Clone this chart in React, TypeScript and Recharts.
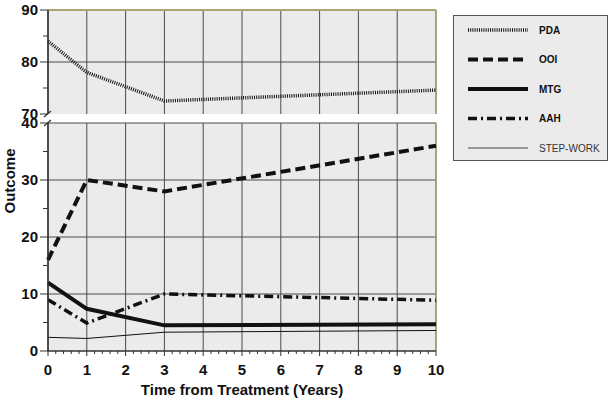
import { LineChart, Line, XAxis, YAxis, CartesianGrid, ReferenceLine } from 'recharts';

// ---------------------------------------------------------------------------
// Data
// ---------------------------------------------------------------------------

const years = [0, 1, 3, 10];
const pda = [84, 78, 72.5, 74.6];
const ooi = [16, 30, 28, 36];
const mtg = [12, 7.4, 4.5, 4.7];
const aah = [9, 4.9, 10, 8.9];
const stepWork = [2.4, 2.2, 3.3, 3.6];

const xMajorTicks = [0, 1, 2, 3, 4, 5, 6, 7, 8, 9, 10];
const xAllTicks = Array.from({ length: 51 }, (_, i) => i / 5);
const topMajorTicks = [70, 80, 90];
const topAllTicks = [70, 75, 80, 85, 90];
const bottomMajorTicks = [0, 10, 20, 30, 40];
const bottomAllTicks = [0, 5, 10, 15, 20, 25, 30, 35, 40];

const rows = years.map((year, i) => ({
  year,
  pda: pda[i],
  ooi: ooi[i],
  mtg: mtg[i],
  aah: aah[i],
  stepWork: stepWork[i],
}));

// ---------------------------------------------------------------------------
// Styles
// ---------------------------------------------------------------------------

const FONT = '"Liberation Sans", Arial, sans-serif';
const PLOT_BG = '#ebebeb';
const GRID = '#4a4a4a';
const OLIVE = '#aba477';
const AXIS = '#333';

interface SeriesStyle {
  key: string;
  name: string;
  width: number;
  dash?: string;
  bold: boolean;
}

const topSeries: SeriesStyle[] = [{ key: 'pda', name: 'PDA', width: 3.5, dash: '1 1.2', bold: true }];
const bottomSeries: SeriesStyle[] = [
  { key: 'ooi', name: 'OOI', width: 4, dash: '10 5', bold: true },
  { key: 'mtg', name: 'MTG', width: 4, bold: true },
  { key: 'aah', name: 'AAH', width: 3.5, dash: '9 4 2 4', bold: true },
  { key: 'stepWork', name: 'STEP-WORK', width: 1, bold: false },
];
const allSeries = [...topSeries, ...bottomSeries];

// ---------------------------------------------------------------------------
// Ticks
// ---------------------------------------------------------------------------

function YTick(props: any) {
  const { x, y, payload, majors } = props;
  const major = majors.includes(payload.value);
  return (
    <g>
      <line x1={x + (major ? 2 : 5)} x2={x + 10} y1={y} y2={y} stroke={AXIS} strokeWidth={1} />
      {major && (
        <text x={x} y={y} dy="0.36em" textAnchor="end" fontFamily={FONT} fontWeight="bold" fontSize={15} fill="#111">
          {payload.value}
        </text>
      )}
    </g>
  );
}

function XTick(props: any) {
  const { x, y, payload } = props;
  const major = Number.isInteger(payload.value);
  return (
    <g>
      <line x1={x} x2={x} y1={y} y2={y + (major ? 5 : 3)} stroke={AXIS} strokeWidth={1} />
      {major && (
        <text x={x} y={y + 24} textAnchor="middle" fontFamily={FONT} fontWeight="bold" fontSize={15} fill="#111">
          {payload.value}
        </text>
      )}
    </g>
  );
}

function renderLine(s: SeriesStyle) {
  return (
    <Line
      key={s.key}
      type="linear"
      dataKey={s.key}
      name={s.name}
      stroke="#111"
      strokeWidth={s.width}
      strokeDasharray={s.dash}
      strokeLinecap="butt"
      dot={false}
      activeDot={false}
      isAnimationActive={false}
    />
  );
}

// ---------------------------------------------------------------------------
// Component
// ---------------------------------------------------------------------------

export default function App() {
  return (
    <div style={{ position: 'absolute', left: 0, top: 0, width: 615, height: 403, background: '#fff' }}>
      {/* upper panel (70 - 90) */}
      <div style={{ position: 'absolute', left: 0, top: 0 }}>
        <LineChart width={615} height={132} data={rows} margin={{ top: 10, right: 179, bottom: 18, left: 0 }}>
          <CartesianGrid
            fill={PLOT_BG}
            fillOpacity={1}
            stroke={GRID}
            verticalValues={xMajorTicks}
            horizontalValues={[80]}
          />
          <XAxis dataKey="year" type="number" domain={[0, 10]} ticks={xMajorTicks} hide />
          <YAxis
            type="number"
            domain={[70, 90]}
            ticks={topAllTicks}
            interval={0}
            width={48}
            tickSize={8}
            tickMargin={2}
            tickLine={false}
            axisLine={{ stroke: AXIS, strokeWidth: 1.5 }}
            tick={(p: any) => <YTick {...p} majors={topMajorTicks} />}
          />
          <ReferenceLine y={90} stroke={OLIVE} strokeWidth={2} />
          <ReferenceLine x={10} stroke={OLIVE} strokeWidth={1.5} />
          {topSeries.map(renderLine)}
        </LineChart>
      </div>

      {/* lower panel (0 - 40) */}
      <div style={{ position: 'absolute', left: 0, top: 103 }}>
        <LineChart width={615} height={300} data={rows} margin={{ top: 20, right: 179, bottom: 0, left: 0 }}>
          <CartesianGrid
            fill={PLOT_BG}
            fillOpacity={1}
            stroke={GRID}
            verticalValues={xMajorTicks}
            horizontalValues={[10, 20, 30, 40]}
          />
          <XAxis
            dataKey="year"
            type="number"
            domain={[0, 10]}
            ticks={xAllTicks}
            interval={0}
            height={52}
            tickSize={0}
            tickMargin={0}
            tickLine={false}
            axisLine={{ stroke: AXIS, strokeWidth: 1.5 }}
            tick={(p: any) => <XTick {...p} />}
            label={{
              value: 'Time from Treatment (Years)',
              position: 'insideBottom',
              offset: 8,
              style: { fontFamily: FONT, fontWeight: 'bold', fontSize: 15, fill: '#111' },
            }}
          />
          <YAxis
            type="number"
            domain={[0, 40]}
            ticks={bottomAllTicks}
            interval={0}
            width={48}
            tickSize={8}
            tickMargin={2}
            tickLine={false}
            axisLine={{ stroke: AXIS, strokeWidth: 1.5 }}
            tick={(p: any) => <YTick {...p} majors={bottomMajorTicks} />}
          />
          <ReferenceLine x={10} stroke={OLIVE} strokeWidth={1.5} />
          {bottomSeries.map(renderLine)}
        </LineChart>
      </div>

      {/* axis title and break marks */}
      <svg width={615} height={403} style={{ position: 'absolute', left: 0, top: 0, pointerEvents: 'none' }}>
        <text
          x={0}
          y={0}
          transform="translate(15 181) rotate(-90)"
          textAnchor="middle"
          fontFamily={FONT}
          fontWeight="bold"
          fontSize={15}
          fill="#111"
        >
          Outcome
        </text>
        <line x1={44} y1={117} x2={51} y2={111} stroke={AXIS} strokeWidth={1.2} />
        <line x1={44} y1={126} x2={51} y2={120} stroke={AXIS} strokeWidth={1.2} />
      </svg>

      {/* legend */}
      <div
        style={{
          position: 'absolute',
          left: 453,
          top: 15,
          width: 153,
          height: 144,
          border: '1.5px solid #555',
          background: PLOT_BG,
        }}
      >
        <svg width={153} height={144}>
          {allSeries.map((s, i) => {
            const cy = 14 + i * 29.5;
            return (
              <g key={s.key}>
                <line
                  x1={14}
                  x2={74}
                  y1={cy}
                  y2={cy}
                  stroke={s.bold ? '#111' : '#444'}
                  strokeWidth={s.width === 1 ? 1.2 : s.width}
                  strokeDasharray={s.dash}
                />
                <text
                  x={85}
                  y={cy}
                  dy="0.36em"
                  fontFamily={FONT}
                  fontWeight={s.bold ? 'bold' : 'normal'}
                  fontSize={10}
                  fill={s.bold ? '#111' : '#333'}
                >
                  {s.name}
                </text>
              </g>
            );
          })}
        </svg>
      </div>
    </div>
  );
}
